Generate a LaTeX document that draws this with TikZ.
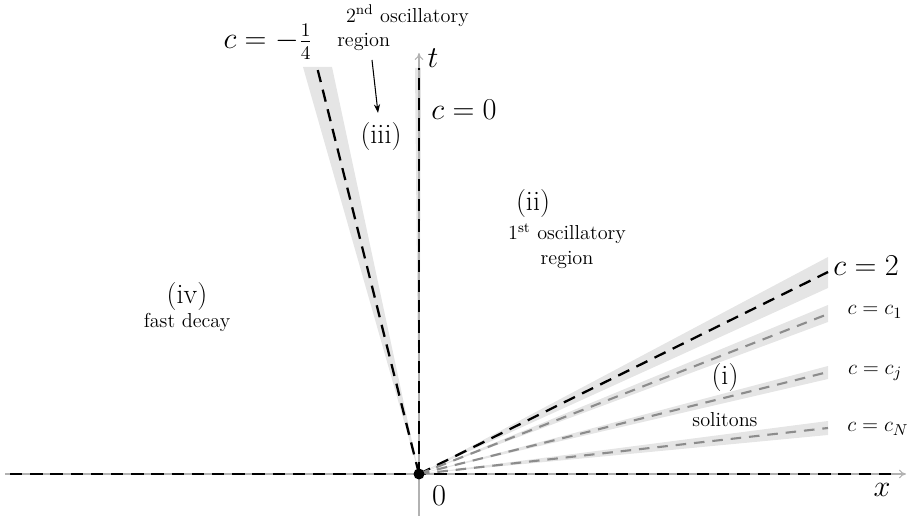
\documentclass[tikz,border=0pt]{standalone}
\usetikzlibrary{arrows.meta}
\begin{document}
\begin{tikzpicture}[x=0.02cm,y=-0.02cm,
  band/.style={fill=black!10,draw=none},
  bdash/.style={line width=1.3pt,dash pattern=on 7pt off 4.5pt},
  gdash/.style={line width=1.2pt,black!45,dash pattern=on 6pt off 4.5pt},
  axisline/.style={black!30,line width=0.6pt,-{To[length=4pt,width=5pt]}},
  big/.style={font=\fontsize{16}{19}\selectfont,inner sep=0pt},
  mid/.style={font=\fontsize{13}{16}\selectfont,inner sep=0pt},
  small/.style={font=\fontsize{11.5}{14}\selectfont,align=center,inner sep=0pt},
  dot/.style={circle,fill=black,inner sep=0pt,minimum size=0.22cm},
]
\useasboundingbox (0,0) rectangle (917,516);
% key points
\coordinate (O) at (419,474);
\coordinate (xl) at (5,474);
\coordinate (xr) at (906,474);
\coordinate (yb) at (419,516);
\coordinate (yt) at (419,53);
\coordinate (hl) at (10,474);
\coordinate (hr) at (895,474);
\coordinate (v0) at (419,68);
\coordinate (em) at (317,67);
\coordinate (e2) at (828,272);
\coordinate (e1) at (828,314);
\coordinate (ej) at (828,372);
\coordinate (eN) at (828,428);
% bands
\fill[band] (O) -- (303,67) -- (332,67) -- cycle;
\fill[band] (O) -- (415,68) -- (421,68) -- cycle;
\fill[band] (O) -- (828,257) -- (828,288) -- cycle;
\fill[band] (O) -- (828,305) -- (828,322) -- cycle;
\fill[band] (O) -- (828,366) -- (828,379) -- cycle;
\fill[band] (O) -- (828,421) -- (828,435) -- cycle;
% axes
\draw[axisline] (xl) -- (xr);
\draw[axisline] (yb) -- (yt);
% rays
\draw[bdash] (hl) -- (hr);
\draw[bdash] (O) -- (v0);
\draw[bdash] (O) -- (em);
\draw[bdash] (O) -- (e2);
\draw[gdash] (O) -- (e1);
\draw[gdash] (O) -- (ej);
\draw[gdash] (O) -- (eN);
\node[dot] (o) at (O) {};
% labels
\node[big] (lm) at (268,42) {$c=-\frac{1}{4}$};
\node[small,align=left] (r2) at (403,28) {\hspace*{5pt}2\textsuperscript{nd} oscillatory\\region};
\node[big] (iii) at (381,136) {(iii)};
\coordinate (as) at (372,60);
\coordinate (ae) at (378,113);
\draw[line width=0.6pt,-{Stealth[length=5pt,width=3.5pt]}] (as) -- (ae);
\node[big] (t) at (433,58) {$t$};
\node[big] (c0) at (464,110) {$c=0$};
\node[big] (ii) at (533,203) {(ii)};
\node[small] (r1) at (567,246) {1\textsuperscript{st} oscillatory\\region};
\node[big] (iv) at (187,296) {(iv)};
\node[small] (fd) at (187,322) {fast decay};
\node[big] (c2) at (866,266) {$c=2$};
\node[mid] (cc1) at (875,312) {$c=c_1$};
\node[mid] (ccj) at (875,373) {$c=c_j$};
\node[mid] (ccN) at (878,429) {$c=c_N$};
\node[big] (i) at (725,377) {(i)};
\node[small] (sol) at (725,420) {solitons};
\node[big] (zero) at (439,496) {$0$};
\node[big] (x) at (882,490) {$x$};
\end{tikzpicture}
\end{document}
